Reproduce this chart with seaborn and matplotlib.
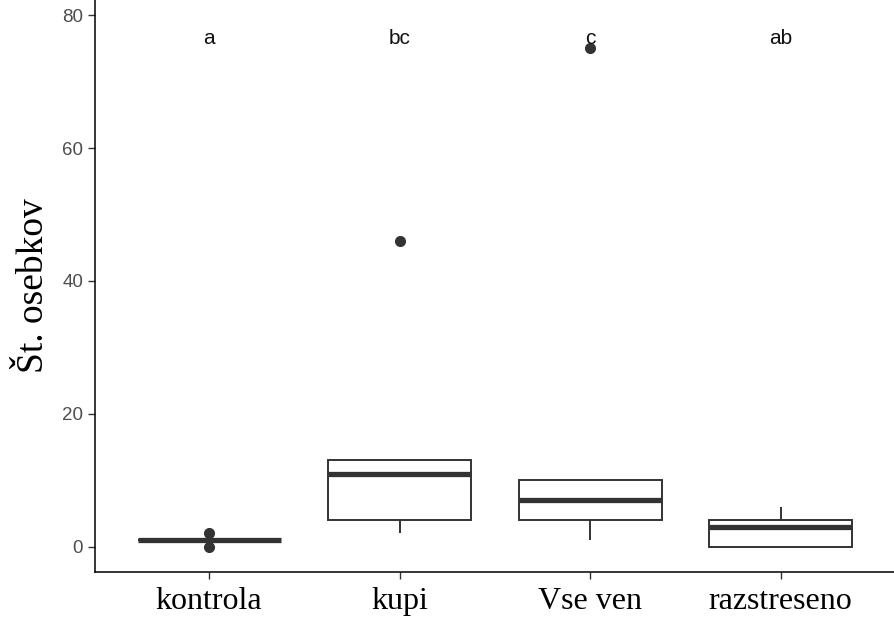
import numpy as np
import pandas as pd
import matplotlib
matplotlib.use("Agg")
import matplotlib.pyplot as plt
import seaborn as sns

# ── data (raw counts per treatment, read from the box stats) ─────────
groups = ["kontrola", "kupi", "Vse ven", "razstreseno"]
kontrola = [0, 1, 1, 1, 2]
kupi = [2, 4, 11, 13, 46]
vse_ven = [1, 4, 7, 10, 75]
razstreseno = [0, 0, 3, 4, 6]
letters = ["a", "bc", "c", "ab"]
letter_y = 76.5
y_ticks = [0, 20, 40, 60, 80]

df = pd.DataFrame({
    "skupina": np.repeat(groups, [len(kontrola), len(kupi), len(vse_ven), len(razstreseno)]),
    "st": kontrola + kupi + vse_ven + razstreseno,
})

sns.set_theme(style="ticks")
plt.rcParams["font.family"] = ["Liberation Sans", "DejaVu Sans"]

fig = plt.figure(figsize=(8.95, 6.23), dpi=100)
ax = fig.add_axes([0.106, 0.082, 0.894, 0.918])

dark = "#333333"
sns.boxplot(
    data=df, x="skupina", y="st", order=groups, ax=ax,
    color="white", linecolor=dark, linewidth=1.4, width=0.75,
    medianprops=dict(color=dark, linewidth=3.8),
    capprops=dict(linewidth=0),
    flierprops=dict(marker="o", markerfacecolor=dark, markeredgecolor=dark, markersize=7),
)

# letters of significance groups
for i, lab in enumerate(letters):
    ax.text(i, letter_y, lab, ha="center", va="center", fontsize=15, color="#111111")

ax.set_xlim(-0.6, 3.6)
ax.set_ylim(-3.8, 82.3)
ax.set_yticks(y_ticks)
ax.tick_params(axis="y", labelsize=13.5, labelcolor="#4d4d4d", color=dark, length=5, width=1)
ax.tick_params(axis="x", color=dark, length=5, width=1, pad=6)
for t in ax.get_xticklabels():
    t.set_fontfamily("Liberation Serif")
    t.set_fontsize(23)
    t.set_color("black")
ax.set_xlabel("")
ax.set_ylabel("Št. osebkov", fontfamily="Liberation Serif", fontsize=27, color="black", labelpad=8)
sns.despine(ax=ax)
for s in ["left", "bottom"]:
    ax.spines[s].set_color("black")
    ax.spines[s].set_linewidth(1.1)

fig.savefig("out.png", dpi=100)
